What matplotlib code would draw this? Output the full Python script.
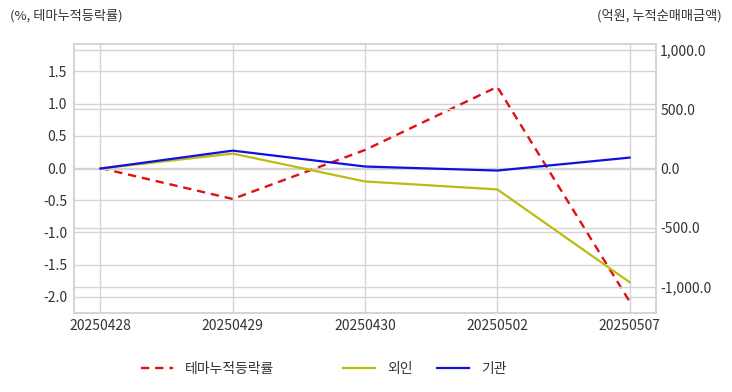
import numpy as np
import matplotlib
matplotlib.use("Agg")
import matplotlib.pyplot as plt
from matplotlib.ticker import FuncFormatter

plt.rcParams['font.family'] = ['Noto Sans CJK KR', 'DejaVu Sans']

#
#   data
#
dates = ["20250428", "20250429", "20250430", "20250502", "20250507"]
themeRate = [0.0, -0.48, 0.28, 1.26, -2.07]
foreign = [0.0, 126, -109, -176, -958]
institution = [0.0, 151, 17, -17, 92]

#
#   plotting
#
fig = plt.figure(figsize=(7.32, 3.92), dpi=100)
ax = fig.add_axes([74 / 732, 1 - 313 / 392, 582 / 732, 269 / 392])
ax2 = ax.twinx()

x = np.arange(len(dates))
l1, = ax.plot(x, themeRate, color="#e01010", linestyle=(0, (3.5, 2.5)), lw=1.7, label="테마누적등락률")
l2, = ax2.plot(x, foreign, color="#bcbc10", lw=1.6, label="외인")
l3, = ax2.plot(x, institution, color="#1010e0", lw=1.6, label="기관")

ax.set_xlim(-0.2, 4.2)
ax.set_ylim(-2.25, 1.925)
ax2.set_ylim(-1218, 1050)
ax.set_yticks(np.arange(-2.0, 1.51, 0.5))
ax2.set_yticks([-1000, -500, 0, 500, 1000])
ax.set_xticks(x)
ax.set_xticklabels(dates)
ax.yaxis.set_major_formatter(FuncFormatter(lambda v, p: f"{v:.1f}"))
ax2.yaxis.set_major_formatter(FuncFormatter(lambda v, p: f"{v:,.1f}"))

gridColor = "#d4d4d4"
ax.grid(True, color=gridColor, lw=1)
ax2.grid(True, axis="y", color=gridColor, lw=1)
ax.set_axisbelow(True)
ax2.set_axisbelow(True)
for a in (ax, ax2):
    for s in a.spines.values():
        s.set_color(gridColor)
        s.set_linewidth(1.2)
    a.tick_params(length=0, labelsize=10, colors="#333333")
ax.tick_params(axis="y", pad=5)
ax.tick_params(axis="x", pad=4)
ax2.tick_params(axis="y", pad=3)

fig.text(10 / 732, 1 - 16 / 392, "(%, 테마누적등락률)", fontsize=9.5, color="#333333", va="center")
fig.text(722 / 732, 1 - 16 / 392, "(억원, 누적순매매금액)", fontsize=9.5, color="#333333", va="center", ha="right")

# one legend per entry so the uneven spacing of the original can be kept
legendX = [135, 337, 431]
for handle, lx in zip([l1, l2, l3], legendX):
    fig.legend(handles=[handle], loc="center left", bbox_to_anchor=(lx / 732, 1 - 369 / 392),
               frameon=False, fontsize=10, handlelength=2.3, handletextpad=0.9,
               labelcolor="#333333", borderaxespad=0)

fig.savefig("out.png", dpi=100)
